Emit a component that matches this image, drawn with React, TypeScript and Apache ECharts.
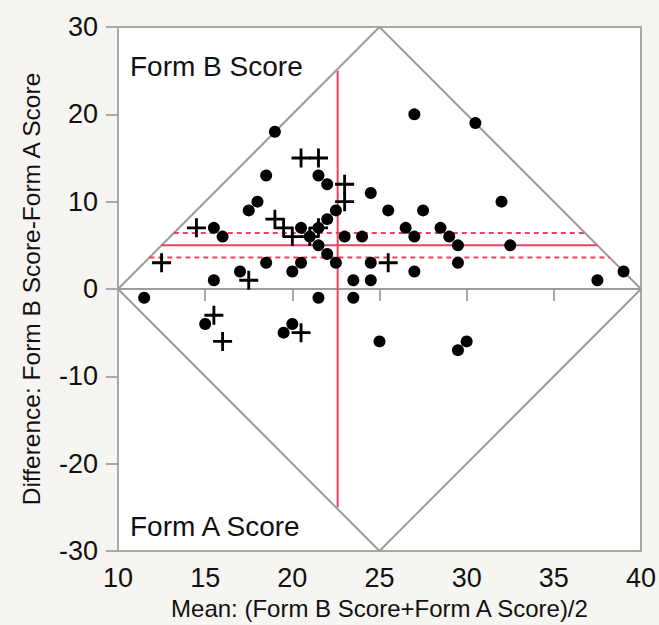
import React, { useEffect, useRef } from "react";
import * as echarts from "echarts";

// Mean score (x) and difference (y) for the filled-circle points
const dotMean = [11.5, 15, 15.5, 15.5, 16, 17, 17.5, 18, 18.5, 19, 18.5, 19.5, 20, 20, 20.5, 20.5, 21, 21.5, 22, 21.5, 22, 22.5, 21.5, 22, 22.5, 21.5, 23, 24, 23.5, 23.5, 24.5, 24.5, 24.5, 25, 25.5, 26.5, 27, 27, 27, 27.5, 28.5, 29, 29.5, 29.5, 29.5, 30, 30.5, 32, 32.5, 37.5, 39];
const dotDiff = [-1, -4, 1, 7, 6, 2, 9, 10, 13, 18, 3, -5, -4, 2, 3, 7, 6, 13, 12, 7, 8, 9, 5, 4, 3, -1, 6, 6, 1, -1, 1, 3, 11, -6, 9, 7, 6, 2, 20, 9, 7, 6, 5, 3, -7, -6, 19, 10, 5, 1, 2];

// Mean score (x) and difference (y) for the cross points
const crossMean = [12.5, 14.5, 15.5, 16, 17.5, 19, 19.5, 20, 20.5, 21.5, 21.5, 21, 23, 23, 20.5, 25.5];
const crossDiff = [3, 7, -3, -6, 1, 8, 7, 6, 15, 15, 7, 6, 12, 10, -5, 3];

// Summary lines
const meanDiff = 5.0;
const upperCI = 6.4;
const lowerCI = 3.6;
const meanOfMeans = 22.6;
const verticalHalfSpan = 25;

// Axes
const xMin = 10, xMax = 40, xStep = 5;
const yMin = -30, yMax = 30, yStep = 10;

const RED = "#e8435f";
const GREY = "#9c9c9c";
const FONT = "Liberation Sans, Arial, Helvetica, sans-serif";

const crossPath = "path://M8.5,0H11.5V8.5H20V11.5H11.5V20H8.5V11.5H0V8.5H8.5Z";

function hLine(y: number) {
  const half = Math.abs(y) / 2;
  return [[xMin + half, y], [xMax - half, y]];
}

export default function App() {
  const ref = useRef<HTMLDivElement>(null);
  useEffect(() => {
    if (!ref.current) return;
    const chart = echarts.init(ref.current, undefined, { renderer: "svg" });
    const mid = (xMin + xMax) / 2;
    const lineBase = { type: "line", symbol: "none", silent: true, z: 1 } as any;
    chart.setOption({
      animation: false,
      backgroundColor: "#f6f5f1",
      grid: {
        left: 118, right: 15, top: 27, bottom: 72,
        show: true, backgroundColor: "#ffffff", borderColor: "#a8a8a8", borderWidth: 2,
      },
      xAxis: {
        type: "value", min: xMin, max: xMax, interval: xStep,
        name: "Mean: (Form B Score+Form A Score)/2",
        nameLocation: "middle", nameGap: 45,
        nameTextStyle: { color: "#111", fontSize: 24, fontFamily: FONT },
        axisLine: { show: true, lineStyle: { color: "#a8a8a8", width: 2 } },
        axisTick: { show: true, length: 12, lineStyle: { color: "#a8a8a8", width: 2 } },
        axisLabel: { color: "#111", fontSize: 27, fontFamily: FONT, margin: 13 },
        splitLine: { show: false },
      },
      yAxis: {
        type: "value", min: yMin, max: yMax, interval: yStep,
        name: "Difference: Form B Score-Form A Score",
        nameLocation: "middle", nameGap: 74,
        nameTextStyle: { color: "#111", fontSize: 24.5, fontFamily: FONT },
        axisLine: { show: true, lineStyle: { color: "#a8a8a8", width: 2 } },
        axisTick: { show: true, length: 12, lineStyle: { color: "#a8a8a8", width: 2 } },
        axisLabel: { color: "#111", fontSize: 27, fontFamily: FONT, margin: 20 },
        splitLine: { show: false },
      },
      series: [
        {
          ...lineBase,
          data: [[xMin, 0], [mid, yMax], [xMax, 0], [mid, yMin], [xMin, 0]],
          lineStyle: { color: GREY, width: 2 },
        },
        { ...lineBase, data: [[xMin, 0], [xMax, 0]], lineStyle: { color: GREY, width: 2 } },
        {
          ...lineBase,
          data: [[meanOfMeans, -verticalHalfSpan], [meanOfMeans, verticalHalfSpan]],
          lineStyle: { color: RED, width: 2 },
        },
        { ...lineBase, data: hLine(meanDiff), lineStyle: { color: RED, width: 2 } },
        { ...lineBase, data: hLine(upperCI), lineStyle: { color: RED, width: 2, type: [5, 4] } },
        { ...lineBase, data: hLine(lowerCI), lineStyle: { color: RED, width: 2, type: [5, 4] } },
        {
          type: "scatter", z: 3,
          data: dotMean.map((x, i) => [x, dotDiff[i]]),
          symbol: "circle", symbolSize: 12,
          itemStyle: { color: "#000", opacity: 1 },
        },
        {
          type: "scatter", z: 3,
          data: crossMean.map((x, i) => [x, crossDiff[i]]),
          symbol: crossPath, symbolSize: 19,
          itemStyle: { color: "#000", opacity: 1 },
        },
      ],
      graphic: [
        {
          type: "text", left: 130, top: 52,
          style: { text: "Form B Score", fill: "#111", fontSize: 28, fontFamily: FONT },
        },
        {
          type: "text", left: 130, top: 512,
          style: { text: "Form A Score", fill: "#111", fontSize: 28, fontFamily: FONT },
        },
      ],
    });
    return () => chart.dispose();
  }, []);
  return (
    <div style={{ position: "fixed", left: 0, top: 0, width: 659, height: 625, background: "#f6f5f1" }}>
      <div ref={ref} style={{ width: 659, height: 625 }} />
    </div>
  );
}
